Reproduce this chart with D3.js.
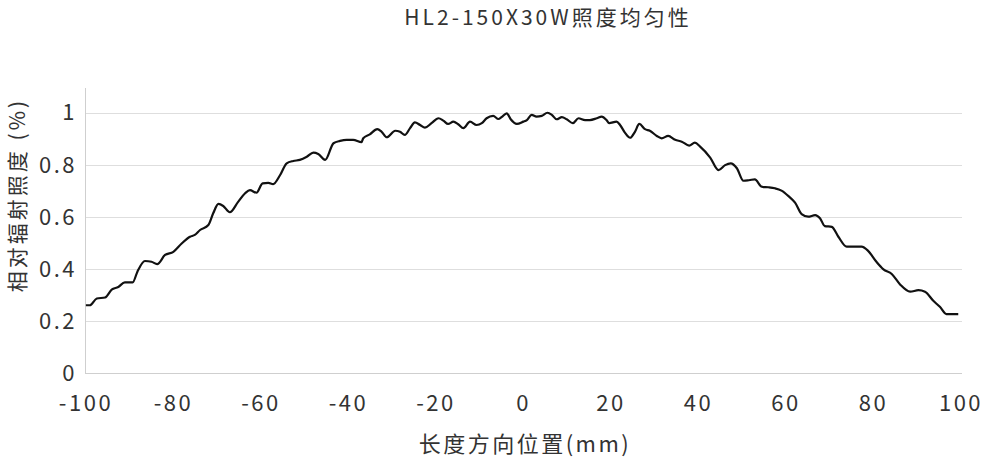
<!DOCTYPE html>
<html><head><meta charset="utf-8">
<script src="https://cdn.jsdelivr.net/npm/d3@7/dist/d3.min.js"></script>
<style>
html,body{margin:0;padding:0;background:#fff;}
text{font-family:"Noto Sans CJK SC","Noto Sans",sans-serif;fill:#333;}
</style></head>
<body><svg id="c" width="984" height="460"></svg>
<script>
const title = "HL2-150X30W照度均匀性";
const xLabel = "长度方向位置(mm)";
const yLabel = "相对辐射照度 (%)";
const xTicks = [-100,-80,-60,-40,-20,0,20,40,60,80,100];
const yTicks = [0,0.2,0.4,0.6,0.8,1];
const positions = [-99.8,-98.9,-97.3,-95.4,-93.9,-92.4,-90.9,-89.1,-88.0,-86.3,-84.8,-83.5,-81.7,-79.8,-77.9,-76.0,-74.9,-73.7,-71.8,-70.7,-69.5,-68.4,-66.9,-65.0,-63.4,-62.3,-60.8,-59.4,-58.1,-57.0,-55.4,-53.9,-52.4,-50.9,-49.3,-47.8,-46.7,-45.1,-43.2,-41.7,-40.2,-38.7,-36.8,-36.4,-34.9,
-33.2,-32.2,-31.0,-29.1,-28.0,-26.9,-25.7,-24.6,-23.4,-22.3,-20.8,-19.2,-18.1,-17.0,-15.8,-14.7,-13.5,-12.0,-10.5,-9.3,-8.2,-6.7,-5.5,-4.8,-3.6,-2.7,-1.3,0.2,1.0,2.1,3.2,4.4,5.7,6.7,7.8,9.0,10.1,11.5,12.8,14.3,15.4,17.0,18.1,19.2,19.8,21.5,22.3,23.4,24.6,25.7,26.7,28.0,29.1,30.7,31.8,
33.3,34.9,36.4,38.1,39.4,40.6,42.9,44.8,46.3,47.6,49.0,50.5,52.0,53.1,54.7,56.2,57.7,59.2,60.8,62.3,63.8,65.3,66.9,68.0,69.1,70.7,72.2,74.1,75.6,77.5,79.0,80.9,82.5,84.4,86.3,88.6,90.5,92.0,93.9,95.4,96.9,99.6];
const irradiance = [0.26,0.26,0.286,0.29,0.32,0.33,0.348,0.348,0.39,0.43,0.427,0.418,0.453,0.465,0.497,0.523,0.53,0.549,0.568,0.613,0.649,0.641,0.617,0.657,0.69,0.702,0.692,0.728,0.73,0.725,0.76,0.805,0.814,0.818,0.83,0.846,0.841,0.818,0.882,0.891,0.895,0.895,0.886,0.901,0.916,
0.936,0.926,0.905,0.93,0.926,0.914,0.94,0.962,0.952,0.942,0.959,0.978,0.969,0.956,0.965,0.955,0.94,0.965,0.952,0.959,0.978,0.987,0.975,0.982,0.997,0.974,0.956,0.965,0.971,0.991,0.984,0.987,0.999,0.991,0.974,0.982,0.974,0.959,0.978,0.971,0.971,0.978,0.984,0.971,0.959,0.965,0.952,0.923,0.903,0.926,0.956,0.936,0.93,0.91,0.901,
0.91,0.895,0.888,0.873,0.884,0.869,0.827,0.779,0.798,0.805,0.786,0.738,0.741,0.743,0.715,0.713,0.709,0.7,0.679,0.654,0.61,0.6,0.606,0.594,0.564,0.561,0.523,0.485,0.485,0.485,0.469,0.427,0.398,0.38,0.34,0.312,0.318,0.312,0.277,0.254,0.226,0.226];

const svg = d3.select("#c");
const x = d3.scaleLinear().domain([-100,100]).range([85,960]);
const y = d3.scaleLinear().domain([0,1]).range([373,112.5]);
const ls = "2.5px";

// gridlines
svg.append("g").selectAll("line").data(yTicks).join("line")
  .attr("x1",85).attr("x2",962).attr("y1",d=>Math.round(y(d))+0.5).attr("y2",d=>Math.round(y(d))+0.5)
  .attr("stroke",d=>d===0?"#cfcfcf":"#dedede").attr("stroke-width",1);
// left axis line
svg.append("line").attr("x1",85.5).attr("x2",85.5).attr("y1",88).attr("y2",374)
  .attr("stroke","#cfcfcf").attr("stroke-width",1);

// y tick labels
svg.append("g").selectAll("text").data(yTicks).join("text")
  .attr("x",77).attr("y",d=>y(d)).attr("dy","0.36em").attr("text-anchor","end")
  .style("font-size","22px").style("letter-spacing",ls)
  .text(d=>d3.format("~g")(d));

// x tick labels
svg.append("g").selectAll("text").data(xTicks).join("text")
  .attr("x",d=>x(d)+1).attr("y",411).attr("text-anchor","middle")
  .style("font-size","22px").style("letter-spacing",ls)
  .text(d=>d);

// line
const line = d3.line().x(d=>x(d[0])).y(d=>y(d[1])).curve(d3.curveMonotoneX);
svg.append("path").datum(positions.map((p,i)=>[p,irradiance[i]]))
  .attr("d",line).attr("fill","none").attr("stroke","#111").attr("stroke-width",2.2)
  .attr("stroke-linejoin","round");

// title
svg.append("text").attr("x",548).attr("y",25).attr("text-anchor","middle")
  .style("font-size","21px").style("letter-spacing","3px").text(title);
// x label
svg.append("text").attr("x",525).attr("y",452).attr("text-anchor","middle")
  .style("font-size","22px").style("letter-spacing",ls).text(xLabel);
// y label
svg.append("text").attr("transform","translate(25,195) rotate(-90)").attr("text-anchor","middle")
  .style("font-size","21px").style("letter-spacing","3px").text(yLabel);
</script></body></html>
